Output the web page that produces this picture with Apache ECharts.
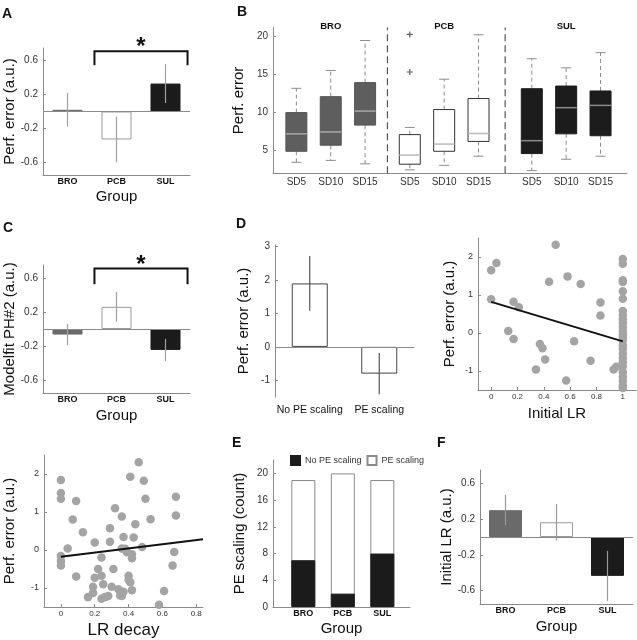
<!DOCTYPE html>
<html>
<head>
<meta charset="utf-8">
<script src="https://cdn.jsdelivr.net/npm/echarts@6/dist/echarts.min.js"></script>
<style>
  html, body { margin: 0; padding: 0; background: #fff; }
  #fig { width: 637px; height: 640px; }
</style>
</head>
<body>
<div id="fig"></div>
<script>
var groups = ['BRO', 'PCB', 'SUL'];
var sdLevels = ['SD5', 'SD10', 'SD15'];

// A: perf. error per group (mean, sem)
var perfErrMean = [0.02, -0.33, 0.33];
var perfErrSem = [0.20, 0.27, 0.23];

// B: [min, q1, median, q3, max] per SD level
var boxBRO = [[3.45, 4.9, 7.2, 10.0, 13.2], [3.7, 5.7, 7.45, 12.1, 15.55], [3.25, 8.35, 10.2, 13.95, 19.5]];
var boxPCB = [[2.45, 3.2, 4.4, 7.1, 8.05], [3.05, 4.9, 5.85, 10.4, 14.4], [4.25, 6.2, 7.25, 11.85, 20.25]];
var boxSUL = [[2.35, 4.6, 6.3, 13.15, 17.1], [3.85, 7.2, 10.65, 13.5, 15.9], [4.25, 6.95, 10.95, 12.85, 17.9]];
var boxOutliers = [['PCB', 'SD5', 20.3], ['PCB', 'SD5', 15.35]];

// C: modelfit PH#2
var modelfitMean = [-0.065, 0.26, -0.245];
var modelfitSem = [0.125, 0.175, 0.13];

// D: perf. error by PE scaling
var peLabels = ['No PE scaling', 'PE scaling'];
var pePerfMean = [1.9, -0.8];
var pePerfSem = [0.82, 0.62];

// D right: initial LR vs perf. error
var initLrPoints = [
  [0, 1.65], [0.04, 1.84], [0, 0.89], [0.17, 0.82], [0.21, 0.68], [0.13, 0.05], [0.17, -0.16],
  [0.37, -0.29], [0.39, -0.40], [0.41, -0.70], [0.34, -0.96], [0.44, 1.35], [0.49, 2.32],
  [0.58, 1.49], [0.68, 1.29], [0.63, -0.22], [0.57, -1.25], [0.755, -0.73], [0.83, 0.80],
  [0.83, 0.46], [0.93, -0.96], [0.95, -0.89],
  [1, 1.95], [1, 1.82], [1, 1.39], [1, 1.34], [1, 1.10], [1, 0.90], [1, 0.58], [1, 0.47],
  [1, 0.36], [1, 0.26], [1, 0.16], [1, 0.05], [1, -0.04], [1, -0.12], [1, -0.20], [1, -0.32],
  [1, -0.42], [1, -0.54], [1, -0.66], [1, -0.77], [1, -0.88], [1, -1.03], [1, -1.15],
  [1, -1.26], [1, -1.38], [1, -1.45]
];
var initLrFit = [[0, 0.82], [1, -0.22]];

// bottom left: LR decay vs perf. error
var lrDecayPoints = [
  [0, 1.84], [0, 1.50], [0, 1.35], [0, -0.16], [0, -0.29], [0, -0.41], [0.04, 0.04],
  [0.09, 1.29], [0.07, 0.80], [0.13, 0.47], [0.09, -0.70], [0.20, 0.20], [0.22, -0.50],
  [0.20, -0.73], [0.24, -0.68], [0.24, -0.20], [0.19, -0.97], [0.19, -1.13], [0.16, -1.24],
  [0.25, -0.90], [0.24, -1.28], [0.26, -1.24], [0.28, -1.21], [0.29, 0.22], [0.29, 0.57],
  [0.30, -0.97], [0.31, -0.50], [0.32, 1.10], [0.36, 0.88], [0.34, -1.03], [0.35, -1.20],
  [0.37, 0.34], [0.36, 0.04], [0.38, 0.03], [0.37, -1.10], [0.36, -1.21], [0.39, -0.06],
  [0.40, -0.68], [0.40, -0.79], [0.41, -0.85], [0.41, 1.93], [0.42, -0.11], [0.42, -0.22],
  [0.42, -1.06], [0.43, 0.33], [0.44, 0.68], [0.46, 2.31], [0.49, 1.82], [0.48, 0.08],
  [0.50, 1.35], [0.53, 0.81], [0.58, -1.44], [0.61, -1.08], [0.68, 1.40], [0.68, 0.91],
  [0.67, -0.05], [0.66, -0.41]
];
var lrDecayFit = [[0, -0.18], [0.84, 0.28]];

// E: counts
var noPeCount = [7, 2, 8];
var peCount = [12, 18, 11];

// F: initial LR per group
var initLrMean = [0.30, 0.165, -0.435];
var initLrSem = [0.17, 0.205, 0.28];

var groupTicks = [-0.6, -0.2, 0.2, 0.6];
var boxTicks = [5, 10, 15, 20];
var peTicks = [-1, 0, 1, 2, 3];
var scatterTicks = [-1, 0, 1, 2];
var initLrTicks = [0, 0.2, 0.4, 0.6, 0.8, 1];
var lrDecayTicks = [0, 0.2, 0.4, 0.6, 0.8];
var countTicks = [0, 4, 8, 12, 16, 20];

var FONT = '"Liberation Sans", Arial, Helvetica, sans-serif';
var AX = '#8a8a8a';
var BOX_MIN = 2, BOX_MAX = 21.2;

var barLook = [
  { color: '#6a6a6a', borderColor: '#6a6a6a', borderWidth: 1 },
  { color: '#ffffff', borderColor: '#9a9a9a', borderWidth: 1 },
  { color: '#1b1b1b', borderColor: '#1b1b1b', borderWidth: 1 }
];
var boxLook = [
  { fill: '#5e5e5e', stroke: '#555555', median: '#a8a8a8' },
  { fill: '#ffffff', stroke: '#333333', median: '#bbbbbb' },
  { fill: '#1c1c1c', stroke: '#1c1c1c', median: '#8a8a8a' }
];

var grids = [
  { left: 43, top: 48, width: 147, height: 127 },    // A
  { left: 273, top: 27.6, width: 354, height: 145.7 }, // B
  { left: 43, top: 265, width: 147, height: 128 },   // C
  { left: 275, top: 245, width: 139, height: 152 },  // D left
  { left: 478, top: 238, width: 158, height: 152 },  // D right
  { left: 44, top: 455, width: 159, height: 152 },   // LR decay
  { left: 273, top: 460, width: 137, height: 147 },  // E
  { left: 480, top: 470, width: 153, height: 134 }   // F
].map(function (g) { g.outerBoundsMode = 'none'; g.containLabel = false; return g; });

function valueAxis(gi, min, max, ticks, name, gap, o) {
  o = o || {};
  return {
    type: 'value', gridIndex: gi, min: min, max: max,
    axisLine: { show: true, onZero: false, lineStyle: { color: AX, width: 1 } },
    axisTick: { show: o.ticks !== false, inside: true, length: 3, customValues: ticks, lineStyle: { color: AX } },
    axisLabel: {
      customValues: ticks, color: '#333', fontSize: o.fontSize || 10, margin: o.margin || 5,
      fontFamily: FONT, formatter: o.formatter
    },
    splitLine: { show: false },
    name: name, nameLocation: 'middle', nameGap: gap,
    nameTextStyle: { fontSize: o.nameSize || 15, color: '#111', fontFamily: FONT }
  };
}

function groupAxis(gi, data, name, gap, o) {
  o = o || {};
  return {
    type: 'category', gridIndex: gi, data: data,
    axisLine: { show: o.line !== false, onZero: false, lineStyle: { color: AX, width: 1 } },
    axisTick: { show: false },
    axisLabel: {
      interval: 0, color: '#111', fontSize: o.fontSize || 9, fontWeight: o.bold === false ? 'normal' : 'bold',
      margin: o.margin || 2, fontFamily: FONT
    },
    splitLine: { show: false },
    name: name, nameLocation: 'middle', nameGap: gap,
    nameTextStyle: { fontSize: 15, color: '#111', fontFamily: FONT }
  };
}

function renderErr(params, api) {
  var x = api.value(0), m = api.value(1), e = api.value(2);
  var p1 = api.coord([x, m + e]);
  var p2 = api.coord([x, m - e]);
  return {
    type: 'line',
    shape: { x1: p1[0], y1: p1[1], x2: p2[0], y2: p2[1] },
    style: { stroke: api.visual('color'), lineWidth: 1.2 }
  };
}

function renderBracket(params, api) {
  var l = api.coord([api.value(0), api.value(2)]);
  var r = api.coord([api.value(1), api.value(2)]);
  var band = api.size([1, 0])[0];
  var leg = api.coord([api.value(0), api.value(3)])[1];
  var star = api.coord([api.value(0), api.value(4)])[1];
  var x1 = l[0] - band * 0.45, x2 = r[0] + band * 0.45;
  return {
    type: 'group',
    children: [
      { type: 'polyline', shape: { points: [[x1, leg], [x1, l[1]], [x2, l[1]], [x2, leg]] },
        style: { stroke: '#111', lineWidth: 2, fill: null } },
      { type: 'text', x: (x1 + x2) / 2, y: star + 5,
        style: { text: '*', fill: '#111', font: 'bold 24px ' + FONT, align: 'center', verticalAlign: 'middle' } }
    ]
  };
}

function renderBox(params, api) {
  var x = api.value(0), g = api.value(6), s = api.value(7);
  var lo = api.coord([x, api.value(1)]);
  var q1 = api.coord([x, api.value(2)]);
  var md = api.coord([x, api.value(3)]);
  var q3 = api.coord([x, api.value(4)]);
  var hi = api.coord([x, api.value(5)]);
  var cx = lo[0], hw = 10.5, cap = 5;
  var look = boxLook[g];
  var dash = { stroke: '#8c8c8c', lineWidth: 1, lineDash: [4, 3] };
  var solid = { stroke: '#8c8c8c', lineWidth: 1 };
  var kids = [
    { type: 'line', shape: { x1: cx, y1: q3[1], x2: cx, y2: hi[1] }, style: dash },
    { type: 'line', shape: { x1: cx, y1: q1[1], x2: cx, y2: lo[1] }, style: dash },
    { type: 'line', shape: { x1: cx - cap, y1: hi[1], x2: cx + cap, y2: hi[1] }, style: solid },
    { type: 'line', shape: { x1: cx - cap, y1: lo[1], x2: cx + cap, y2: lo[1] }, style: solid },
    { type: 'rect', shape: { x: cx - hw, y: q3[1], width: hw * 2, height: q1[1] - q3[1] },
      style: { fill: look.fill, stroke: look.stroke, lineWidth: 1 } },
    { type: 'line', shape: { x1: cx - hw, y1: md[1], x2: cx + hw, y2: md[1] },
      style: { stroke: look.median, lineWidth: 1.5 } }
  ];
  if (s === 1) {
    kids.push({ type: 'text', x: cx, y: api.coord([x, BOX_MAX])[1] - 1,
      style: { text: groups[g], fill: '#111', font: 'bold 9.5px ' + FONT, align: 'center', verticalAlign: 'middle' } });
  }
  return { type: 'group', children: kids };
}

function renderSeparator(params, api) {
  var a = api.coord([api.value(0), BOX_MIN]);
  var b = api.coord([api.value(0), BOX_MAX]);
  return { type: 'line', shape: { x1: a[0], y1: a[1], x2: b[0], y2: b[1] },
    style: { stroke: '#555', lineWidth: 1.2, lineDash: [7, 4] } };
}

// box layout along the B x axis
var groupShift = [0, 3.3, 6.85];
var boxData = [];
var boxPos = [];
[boxBRO, boxPCB, boxSUL].forEach(function (set, g) {
  set.forEach(function (st, s) {
    var p = groupShift[g] + s + 1;
    boxPos.push(p);
    boxData.push([p].concat(st, [g, s]));
  });
});
var sepData = [[(boxPos[2] + boxPos[3]) / 2], [(boxPos[5] + boxPos[6]) / 2]];
var outlierData = boxOutliers.map(function (o) {
  return [groupShift[groups.indexOf(o[0])] + sdLevels.indexOf(o[1]) + 1, o[2]];
});

function barData(vals) {
  return vals.map(function (v, i) { return { value: v, itemStyle: barLook[i] }; });
}
function errData(mean, sem) {
  return mean.map(function (m, i) { return [i, m, sem[i]]; });
}
var zeroLine = {
  silent: true, symbol: ['none', 'none'], label: { show: false },
  lineStyle: { color: '#8a8a8a', width: 1, type: 'solid' }, emphasis: { disabled: true },
  data: [{ yAxis: 0 }]
};

var xAxes = [
  groupAxis(0, groups, 'Group', 14),
  valueAxis(1, 0.32, 10.62, boxPos, '', 0, {
    ticks: false, margin: 3.5,
    formatter: function (v) {
      for (var i = 0; i < boxPos.length; i++) if (Math.abs(v - boxPos[i]) < 0.01) return sdLevels[i % 3];
      return '';
    }
  }),
  groupAxis(2, groups, 'Group', 15.5),
  groupAxis(3, peLabels, '', 0, { line: false, bold: false, fontSize: 10.5, margin: 8 }),
  valueAxis(4, -0.1, 1.1, initLrTicks, 'Initial LR', 16.5, { fontSize: 8, margin: 3 }),
  valueAxis(5, -0.1, 0.84, lrDecayTicks, 'LR decay', 15, { fontSize: 8, margin: 3, nameSize: 17 }),
  valueAxis(6, 0.233, 3.7, [1, 2, 3], 'Group', 14.5, {
    ticks: false, margin: 2,
    formatter: function (v) { return groups[Math.round(v) - 1]; }
  }),
  groupAxis(7, groups, 'Group', 15)
];
xAxes[6].axisLabel.fontWeight = 'bold';
xAxes[6].axisLabel.fontSize = 9;
xAxes[6].axisLabel.color = '#111';

var yAxes = [
  valueAxis(0, -0.75, 0.75, groupTicks, 'Perf. error (a.u.)', 25),
  valueAxis(1, BOX_MIN, BOX_MAX, boxTicks, 'Perf. error', 20),
  valueAxis(2, -0.75, 0.75, groupTicks, 'Modelfit PH#2 (a.u.)', 24),
  valueAxis(3, -1.5, 3.05, peTicks, 'Perf. error (a.u.)', 23.5),
  valueAxis(4, -1.5, 2.5, scatterTicks, 'Perf. error (a.u.)', 20.5, { fontSize: 9 }),
  valueAxis(5, -1.5, 2.5, scatterTicks, 'Perf. error (a.u.)', 27, { fontSize: 9 }),
  valueAxis(6, 0, 22, countTicks, 'PE scaling (count)', 26),
  valueAxis(7, -0.75, 0.75, groupTicks, 'Initial LR (a.u.)', 24)
];

// E: total bar (white) behind the black "No PE scaling" part
var totalCount = noPeCount.map(function (v, i) { return v + peCount[i]; });

var series = [
  // A
  { type: 'bar', name: 'perfA', xAxisIndex: 0, yAxisIndex: 0, barWidth: 30, data: barData(perfErrMean), markLine: zeroLine },
  { type: 'custom', name: 'errA', xAxisIndex: 0, yAxisIndex: 0, renderItem: renderErr, itemStyle: { color: '#a0a0a0' },
    data: errData(perfErrMean, perfErrSem), z: 5 },
  { type: 'custom', name: 'sigA', xAxisIndex: 0, yAxisIndex: 0, renderItem: renderBracket, data: [[1, 2, 0.713, 0.545, 0.82]], z: 5 },
  // B
  { type: 'custom', name: 'sepB', xAxisIndex: 1, yAxisIndex: 1, renderItem: renderSeparator, data: sepData },
  { type: 'custom', name: 'boxB', xAxisIndex: 1, yAxisIndex: 1, renderItem: renderBox, data: boxData,
    encode: { x: 0, y: [1, 2, 3, 4, 5] } },
  { type: 'scatter', name: 'outB', xAxisIndex: 1, yAxisIndex: 1, data: outlierData,
    symbol: 'path://M4,0h2v4h4v2h-4v4h-2v-4h-4v-2h4z', symbolSize: 6, itemStyle: { color: '#333' } },
  // C
  { type: 'bar', name: 'fitC', xAxisIndex: 2, yAxisIndex: 2, barWidth: 30, data: barData(modelfitMean), markLine: zeroLine },
  { type: 'custom', name: 'errC', xAxisIndex: 2, yAxisIndex: 2, renderItem: renderErr, itemStyle: { color: '#a0a0a0' },
    data: errData(modelfitMean, modelfitSem), z: 5 },
  { type: 'custom', name: 'sigC', xAxisIndex: 2, yAxisIndex: 2, renderItem: renderBracket, data: [[1, 2, 0.708, 0.524, 0.80]], z: 5 },
  // D left
  { type: 'bar', name: 'perfD', xAxisIndex: 3, yAxisIndex: 3, barWidth: 36,
    data: pePerfMean.map(function (v) { return { value: v, itemStyle: { color: '#fff', borderColor: '#444', borderWidth: 1 } }; }),
    markLine: zeroLine },
  { type: 'custom', name: 'errD', xAxisIndex: 3, yAxisIndex: 3, renderItem: renderErr, itemStyle: { color: '#555' },
    data: errData(pePerfMean, pePerfSem), z: 5 },
  // D right
  { type: 'scatter', name: 'initLr', xAxisIndex: 4, yAxisIndex: 4, data: initLrPoints, symbolSize: 8.5,
    itemStyle: { color: '#a4a4a4', opacity: 1 } },
  { type: 'line', name: 'initLrFit', xAxisIndex: 4, yAxisIndex: 4, data: initLrFit, symbol: 'none',
    lineStyle: { color: '#111', width: 2 }, z: 5 },
  // LR decay
  { type: 'scatter', name: 'lrDecay', xAxisIndex: 5, yAxisIndex: 5, data: lrDecayPoints, symbolSize: 8.5,
    itemStyle: { color: '#a4a4a4', opacity: 1 } },
  { type: 'line', name: 'lrDecayFit', xAxisIndex: 5, yAxisIndex: 5, data: lrDecayFit, symbol: 'none',
    lineStyle: { color: '#111', width: 2 }, z: 5 },
  // E
  { type: 'bar', name: 'PE scaling', xAxisIndex: 6, yAxisIndex: 6, barWidth: 24, barGap: '-100%',
    data: totalCount.map(function (v, i) { return [i + 1, v]; }),
    itemStyle: { color: '#ffffff', borderColor: '#8a8a8a', borderWidth: 1 }, z: 2 },
  { type: 'bar', name: 'No PE scaling', xAxisIndex: 6, yAxisIndex: 6, barWidth: 24, barGap: '-100%',
    data: noPeCount.map(function (v, i) { return [i + 1, v]; }),
    itemStyle: { color: '#1b1b1b', borderColor: '#1b1b1b', borderWidth: 1 }, z: 3 },
  // F
  { type: 'bar', name: 'initF', xAxisIndex: 7, yAxisIndex: 7, barWidth: 33, data: barData(initLrMean), markLine: zeroLine },
  { type: 'custom', name: 'errF', xAxisIndex: 7, yAxisIndex: 7, renderItem: renderErr, itemStyle: { color: '#9a9a9a' },
    data: errData(initLrMean, initLrSem), z: 5 }
];

function letter(t, x, y) {
  return { type: 'text', x: x, y: y, style: { text: t, fill: '#111', font: 'bold 14px ' + FONT, align: 'left', verticalAlign: 'middle' } };
}

var chart = echarts.init(document.getElementById('fig'), null, { renderer: 'canvas' });
chart.setOption({
  animation: false,
  backgroundColor: '#fff',
  textStyle: { fontFamily: FONT },
  grid: grids,
  xAxis: xAxes,
  yAxis: yAxes,
  legend: {
    data: ['No PE scaling', 'PE scaling'], left: 290, top: 455, padding: 0, itemWidth: 9, itemHeight: 9, itemGap: 5,
    icon: 'rect', selectedMode: false,
    textStyle: { fontSize: 9, color: '#333', fontFamily: FONT }
  },
  graphic: [
    letter('A', 2, 14), letter('B', 237, 12), letter('C', 3, 228),
    letter('D', 236, 224), letter('E', 232, 443), letter('F', 437, 443.5)
  ],
  series: series
});
</script>
</body>
</html>
